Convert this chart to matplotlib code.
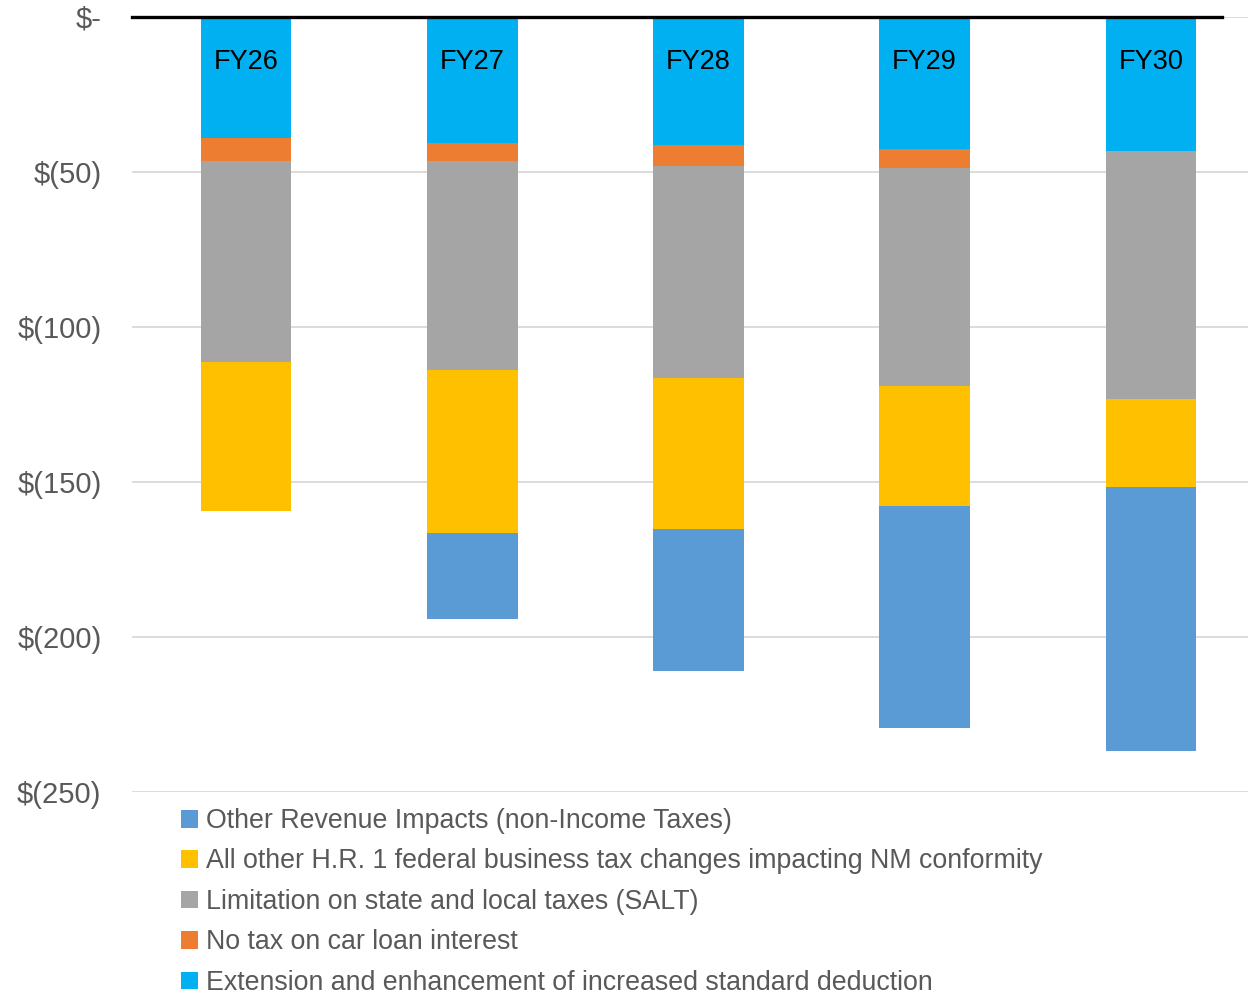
import numpy as np
import matplotlib.pyplot as plt

plt.rcParams['font.family'] = ['Liberation Sans', 'DejaVu Sans']

years = ["FY26", "FY27", "FY28", "FY29", "FY30"]

# $ millions (negative impacts)
std_deduction = [-39.0, -40.6, -41.3, -42.6, -43.2]
car_loan = [-7.4, -5.8, -6.8, -6.1, 0.0]
salt = [-65.0, -67.4, -68.4, -70.3, -80.0]
other_business = [-48.0, -52.6, -48.7, -38.7, -28.4]
other_revenue = [0.0, -27.7, -45.8, -71.6, -85.2]

series = [
    ("Extension and enhancement of increased standard deduction", std_deduction, "#00B0F0"),
    ("No tax on car loan interest", car_loan, "#ED7D31"),
    ("Limitation on state and local taxes (SALT)", salt, "#A5A5A5"),
    ("All other H.R. 1 federal business tax changes impacting NM conformity", other_business, "#FFC000"),
    ("Other Revenue Impacts (non-Income Taxes)", other_revenue, "#5B9BD5"),
]

fig = plt.figure(figsize=(12.48, 9.94), dpi=100)
ax = fig.add_axes([132 / 1248, 1 - 792 / 994, 1 - 132 / 1248, (792 - 17) / 994])

x = np.arange(len(years))
bottom = np.zeros(len(years))
handles = []
for label, vals, color in series:
    vals = np.array(vals)
    b = ax.bar(x, vals, width=0.4, bottom=bottom, color=color, label=label, zorder=2)
    handles.append(b)
    bottom += vals

for i, yr in enumerate(years):
    ax.text(i, -14.5, yr, ha="center", va="center", fontsize=19.5, color="black", zorder=3)

ax.set_xlim(-0.505, 4.43)
ax.set_ylim(-250, 0)
ax.set_yticks([0, -50, -100, -150, -200, -250])
ax.set_yticklabels(["$-", "$(50)", "$(100)", "$(150)", "$(200)", "$(250)"])
ax.tick_params(axis="y", length=0, pad=22, labelsize=21, labelcolor="#595959")
ax.set_xticks([])
ax.grid(axis="y", color="#D9D9D9", linewidth=1.3, zorder=0)
for s in ax.spines.values():
    s.set_visible(False)
ax.axhline(0, xmin=0, xmax=(1222 - 132) / (1248 - 132), color="black", linewidth=2.4, zorder=4, clip_on=False)

fig.legend(handles[::-1], [s[0] for s in series][::-1], loc="upper left",
           bbox_to_anchor=(181 / 1248, 1 - 808 / 994), frameon=False,
           fontsize=19.3, labelcolor="#595959", handlelength=0.65, handleheight=0.65,
           handletextpad=0.3, labelspacing=0.54, borderpad=0, borderaxespad=0)

fig.savefig("out.png", dpi=100)
